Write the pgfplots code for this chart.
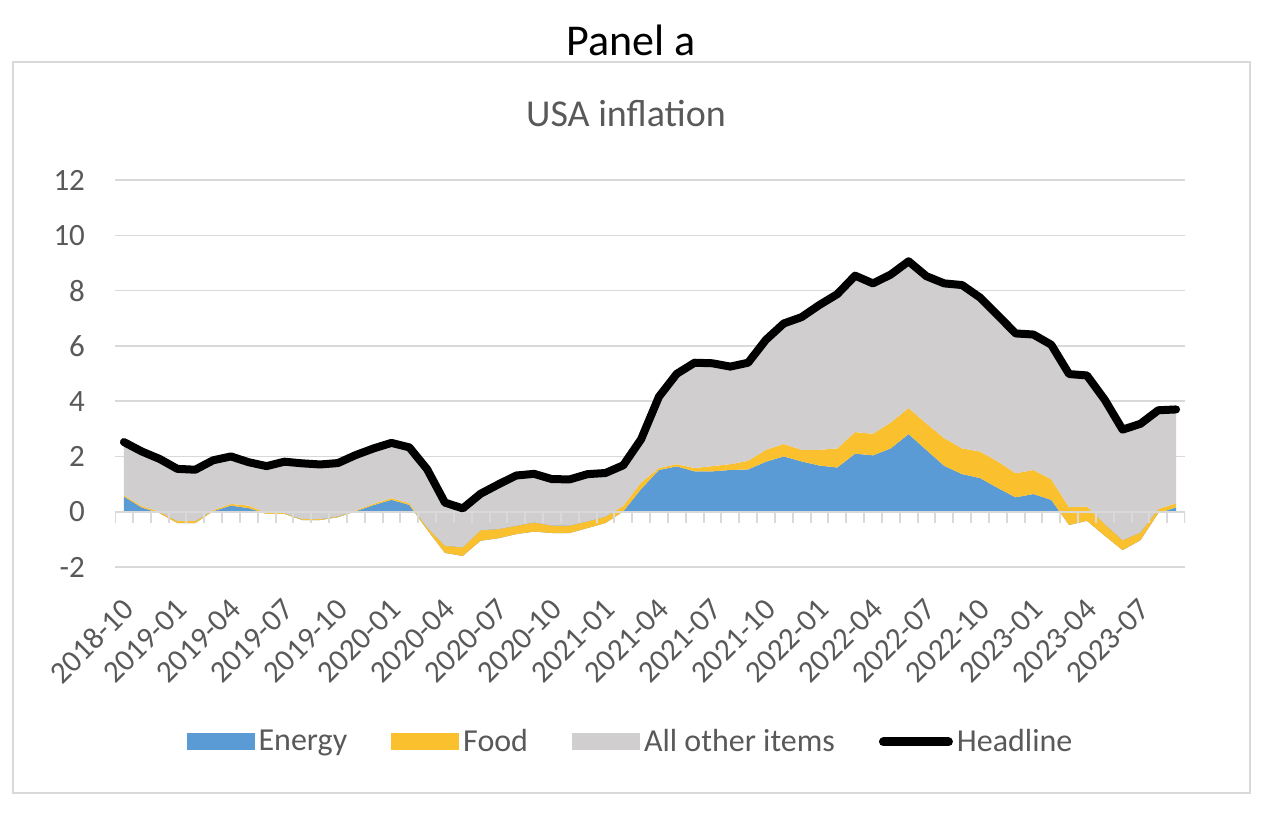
\documentclass[border=0pt]{standalone}
\usepackage{pgfplots}
\pgfplotsset{compat=1.18}
\usepackage{pgfplotstable}
\usepgfplotslibrary{fillbetween}
\usepackage{fontspec}
\setmainfont{Carlito}
\definecolor{energy}{HTML}{5B9BD5}
\definecolor{food}{HTML}{FBC02D}
\definecolor{other}{HTML}{D0CECE}
\definecolor{gridgray}{HTML}{D9D9D9}
\definecolor{textgray}{HTML}{595959}

% i: month index from 2018-10; E: energy; F: food; H: headline
\pgfplotstableread{
i E F H
0 0.55 0.05 2.52
1 0.15 0.05 2.18
2 -0.05 0.05 1.91
3 -0.41 0.07 1.55
4 -0.41 0.07 1.52
5 0.02 0.04 1.86
6 0.22 0.06 2.00
7 0.13 0.09 1.79
8 -0.08 0.03 1.65
9 -0.08 0.03 1.81
10 -0.30 0.03 1.75
11 -0.30 0.03 1.71
12 -0.20 0.03 1.76
13 0.02 0.03 2.05
14 0.24 0.05 2.29
15 0.43 0.06 2.49
16 0.25 0.06 2.33
17 -0.65 0.08 1.54
18 -1.49 0.26 0.33
19 -1.60 0.31 0.12
20 -1.05 0.38 0.65
21 -0.96 0.33 0.99
22 -0.81 0.30 1.31
23 -0.72 0.33 1.37
24 -0.77 0.27 1.18
25 -0.77 0.27 1.17
26 -0.59 0.24 1.36
27 -0.41 0.23 1.40
28 0.01 0.20 1.68
29 0.82 0.24 2.62
30 1.51 0.07 4.16
31 1.64 0.08 4.99
32 1.46 0.12 5.39
33 1.46 0.19 5.37
34 1.51 0.21 5.25
35 1.53 0.31 5.39
36 1.81 0.43 6.22
37 2.00 0.45 6.81
38 1.82 0.42 7.04
39 1.67 0.57 7.48
40 1.60 0.69 7.87
41 2.10 0.78 8.54
42 2.04 0.78 8.26
43 2.29 0.94 8.58
44 2.81 0.94 9.06
45 2.23 0.96 8.52
46 1.66 1.00 8.26
47 1.36 0.93 8.20
48 1.22 0.96 7.75
49 0.86 0.96 7.11
50 0.52 0.87 6.45
51 0.64 0.87 6.41
52 0.43 0.74 6.04
53 -0.48 0.64 4.98
54 -0.33 0.52 4.93
55 -0.87 0.42 4.05
56 -1.39 0.36 2.97
57 -1.03 0.28 3.18
58 -0.05 0.15 3.67
59 0.16 0.14 3.70
}\data

\begin{document}
\begin{tikzpicture}
\path (0pt,0pt) rectangle (631pt,-407pt);
\draw[gridgray, line width=0.75pt] (6.5pt,-31pt) rectangle (625pt,-396.5pt);
\node[font=\fontsize{22}{26}\selectfont] at (315.5pt,-20pt) {Panel a};
\node[font=\fontsize{19}{23}\selectfont, text=textgray] at (313pt,-56.5pt) {USA inflation};
\begin{axis}[
  at={(57.5pt,-283.5pt)}, anchor=south west,
  scale only axis, width=535pt, height=193.5pt,
  xmin=-0.5, xmax=59.5, ymin=-2, ymax=12,
  axis line style={draw=none},
  major tick length=0pt,
  ytick={-2,0,...,12},
  ymajorgrids, grid style={gridgray, line width=0.75pt},
  xtick={0,3,...,57},
  xticklabels={2018-10,2019-01,2019-04,2019-07,2019-10,2020-01,2020-04,2020-07,2020-10,2021-01,2021-04,2021-07,2021-10,2022-01,2022-04,2022-07,2022-10,2023-01,2023-04,2023-07},
  tick label style={font=\fontsize{15.5}{18}\selectfont, text=textgray},
  /pgf/number format/assume math mode=true,
  xticklabel style={rotate=45, anchor=east, yshift=-14.7pt, xshift=-8.2pt},
  yticklabel style={xshift=-11.5pt},
  legend style={at={(0.4827,-0.452)}, anchor=center, draw=none, fill=none,
    font=\fontsize{16}{19}\selectfont, text=textgray,
    /tikz/every even column/.append style={column sep=20pt}},
  legend columns=4,
  legend cell align=left,
]
\addplot[draw=none, name path=zero, forget plot] coordinates {(0,0) (59,0)};
\addplot[draw=none, name path=ce, forget plot] table[x=i,y=E]{\data};
\addplot[draw=none, name path=cf, forget plot] table[x=i,y expr=\thisrow{E}+\thisrow{F}]{\data};
\addplot[draw=none, name path=ch, forget plot] table[x=i,y=H]{\data};
\addplot[fill=energy, draw=none, legend image code/.code={\fill[energy] (0pt,-4.25pt) rectangle (34pt,4.25pt);}] fill between[of=zero and ce];
\addlegendentry{Energy}
\addplot[fill=food, draw=none, legend image code/.code={\fill[food] (0pt,-4.25pt) rectangle (34pt,4.25pt);}] fill between[of=ce and cf];
\addlegendentry{Food}
\addplot[fill=other, draw=none, legend image code/.code={\fill[other] (0pt,-4.25pt) rectangle (34pt,4.25pt);}] fill between[of=cf and ch];
\addlegendentry{All other items}
\draw[gridgray, line width=1pt] (axis cs:-0.5,0) -- (axis cs:59.5,0);
\pgfplotsinvokeforeach{-0.5,0.5,...,59.5}{\draw[gridgray, line width=1pt] (axis cs:#1,0) -- ++(0pt,-5.5pt);}
\addplot[black, line width=4pt, line join=round, line cap=round,
  legend image code/.code={\draw[black, line width=4.5pt, line cap=round] (2.25pt,0pt) -- (34.75pt,0pt);}] table[x=i,y=H]{\data};
\addlegendentry{Headline}
\end{axis}
\end{tikzpicture}
\end{document}
